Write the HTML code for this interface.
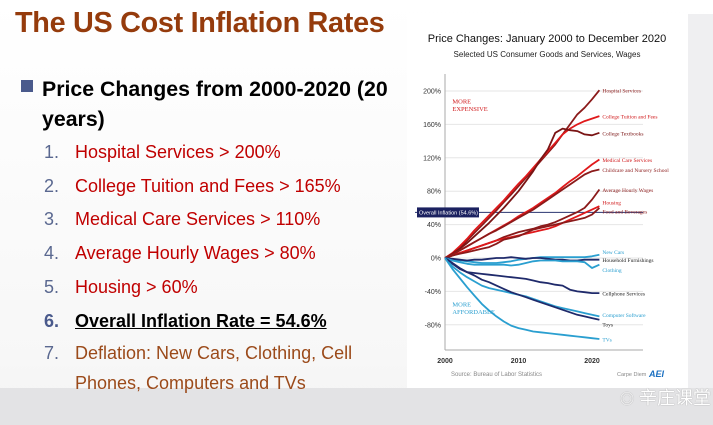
<!DOCTYPE html>
<html><head><meta charset="utf-8"><style>
body{margin:0;width:713px;height:425px;overflow:hidden;font-family:"Liberation Sans","Noto Sans CJK SC",sans-serif;}
#slide{position:absolute;left:0;top:0;width:713px;height:425px;background:linear-gradient(180deg,#ffffff 0%,#f7f7f7 85%,#f3f3f3 100%);}
#band{position:absolute;left:0;top:388px;width:713px;height:37px;background:#e3e3e5;}
#rstrip{position:absolute;left:688px;top:14px;width:25px;height:374px;background:#efeff1;}
#title{position:absolute;left:15px;top:7px;font-size:28.8px;font-weight:bold;color:#953b0c;letter-spacing:-0.3px;}
#bullet{position:absolute;left:21px;top:80px;width:12px;height:12px;background:#4a5a8c;}
#head{position:absolute;left:42px;top:74px;font-size:21.3px;font-weight:bold;color:#000;line-height:30px;width:380px;white-space:nowrap;}
.item{position:absolute;left:44px;font-size:18px;line-height:34px;color:#c00000;white-space:nowrap;}
.item .n{display:inline-block;width:31px;color:#5a6890;}
#chart{position:absolute;left:407px;top:14px;}
#wm{position:absolute;left:620px;top:384px;font-size:18px;color:#fff;text-shadow:0 0 1px #888;}
</style></head><body>
<div id="slide"></div>
<div id="band"></div>
<div id="rstrip"></div>
<div id="title">The US Cost Inflation Rates</div>
<div id="bullet"></div>
<div id="head">Price Changes from 2000-2020 (20<br>years)</div>
<div class="item" style="top:135px"><span class="n">1.</span>Hospital Services &gt; 200%</div>
<div class="item" style="top:169px"><span class="n">2.</span>College Tuition and Fees &gt; 165%</div>
<div class="item" style="top:202px"><span class="n">3.</span>Medical Care Services &gt; 110%</div>
<div class="item" style="top:236px"><span class="n">4.</span>Average Hourly Wages &gt; 80%</div>
<div class="item" style="top:270px"><span class="n">5.</span>Housing &gt; 60%</div>
<div class="item" style="top:304px;color:#000;font-weight:bold;text-decoration:underline"><span class="n" style="text-decoration:none;color:#4a5a8c">6.</span>Overall Inflation Rate = 54.6%</div>
<div class="item" style="top:338px;color:#9b4a1a;line-height:30px;white-space:normal;width:330px;padding-left:31px;text-indent:-31px"><span class="n" style="text-indent:0">7.</span>Deflation: New Cars, Clothing, Cell Phones, Computers and TVs</div>
<svg id="chart" width="281" height="374"></svg>
<div id="wm"><span style="font-size:14px;color:#fff">◎</span> 辛庄课堂</div>
<script>
const years=[2000,2001,2002,2003,2004,2005,2006,2007,2008,2009,2010,2011,2012,2013,2014,2015,2016,2017,2018,2019,2020,2021];
const seriesNames=["Hospital Services","College Tuition and Fees","College Textbooks","Medical Care Services","Childcare and Nursery School","Average Hourly Wages","Housing","Food and Beverages","New Cars","Household Furnishings","Clothing","Cellphone Services","Computer Software","Toys","TVs"];
const hospital=[0,5,12,21,30,39,48,57,67,76,86,96,106,116,126,136,148,160,172,180,190,201];
const tuition=[0,6,14,23,33,42,51,60,69,79,89,98,108,118,128,138,148,155,160,164,167,170];
const textbooks=[0,5,11,18,26,34,42,51,60,70,80,92,104,118,130,150,155,153,152,148,147,150];
const medical=[0,4,9,14,19,24,29,34,39,44,50,55,60,66,72,78,85,92,98,105,112,118];
const childcare=[0,4,9,14,19,24,29,33,38,43,48,53,58,64,70,76,82,88,94,100,104,106];
const wages=[0,3,6,9,12,15,18,21,25,28,31,33,35,38,40,43,47,51,55,60,70,82];
const housing=[0,3,6,9,12,15,18,21,23,25,27,29,31,33,35,38,42,46,50,54,58,62];
const food=[0,3,5,7,9,11,13,17,22,24,26,30,34,36,38,40,42,44,46,48,52,60];
const newCars=[0,-2,-3,-4,-5,-6,-6,-6,-5,-4,-2,-1,0,1,1,1,1,1,1,1,2,4];
const furnishings=[0,-1,-2,-3,-2,-2,-1,0,0,1,0,-1,0,0,-1,-2,-2,-3,-3,-2,-2,-2];
const clothing=[0,-3,-5,-7,-8,-8,-8,-8,-8,-9,-8,-6,-4,-3,-3,-3,-4,-4,-4,-5,-12,-8];
const cellphone=[0,-7,-13,-17,-18,-19,-20,-21,-22,-23,-24,-25,-27,-29,-30,-32,-33,-38,-40,-41,-42,-42];
const software=[0,-10,-17,-23,-28,-33,-36,-38,-40,-42,-44,-46,-49,-52,-55,-58,-60,-62,-64,-66,-68,-70];
const toys=[0,-6,-12,-17,-21,-26,-29,-33,-37,-41,-44,-47,-50,-53,-56,-59,-62,-65,-68,-70,-72,-74];
const tvs=[0,-13,-24,-35,-45,-55,-63,-70,-76,-81,-84,-86,-88,-89,-90,-91,-92,-93,-94,-95,-96,-97];
const overall=[54.6];
const yTicks=[200,160,120,80,40,0,-40,-80];
const xTicks=[2000,2010,2020];

const svg=document.getElementById('chart');
const NS='http://www.w3.org/2000/svg';
const OX=407,OY=14;
const x=v=>445+(v-2000)*7.35-OX;
const y=v=>258-v*0.835-OY;
function el(t,a,txt){const e=document.createElementNS(NS,t);for(const k in a)e.setAttribute(k,a[k]);if(txt!==undefined)e.textContent=txt;svg.appendChild(e);return e;}
let r=el('rect',{x:0,y:0,width:281,height:374,fill:'#fff'});


let t=el('text',{x:140,y:28,'text-anchor':'middle','font-size':11,fill:'#111','font-family':'Liberation Sans'},'Price Changes: January 2000 to December 2020');


t=el('text',{x:140,y:43,'text-anchor':'middle','font-size':8,fill:'#222','font-family':'Liberation Sans'},'Selected US Consumer Goods and Services, Wages');


yTicks.forEach(v=>{
 const g=el('line',{x1:x(2000),x2:643-OX,y1:y(v),y2:y(v),stroke:'#e6e6e6','stroke-width':1});
 
 
 const l=el('text',{x:x(2000)-4,y:y(v)+2.5,'text-anchor':'end','font-size':7,fill:'#333','font-family':'Liberation Sans'},v+'%');
 
 
});
let ax=el('line',{x1:x(2000),x2:x(2000),y1:60,y2:350-OY,stroke:'#aaa','stroke-width':1});


ax=el('line',{x1:x(2000),x2:643-OX,y1:350-OY,y2:350-OY,stroke:'#aaa','stroke-width':1});


xTicks.forEach(v=>{
 const l=el('text',{x:x(v),y:349,'text-anchor':'middle','font-size':7,'font-weight':'bold',fill:'#333','font-family':'Liberation Sans'},String(v));
 
 
});
let ol=el('line',{x1:x(2000)-30,x2:643-OX,y1:y(overall[0]),y2:y(overall[0]),stroke:'#2a3470','stroke-width':1});


let ob=el('rect',{x:10,y:y(overall[0])-5,width:62,height:10,fill:'#1b2160'});


t=el('text',{x:12,y:y(overall[0])+2,'font-size':5.5,fill:'#fff','font-family':'Liberation Sans'},'Overall Inflation ('+overall[0]+'%)');


const data=[hospital,tuition,textbooks,medical,childcare,wages,housing,food,newCars,furnishings,clothing,cellphone,software,toys,tvs];
const cols=['#8b1a1a','#e0191b','#7a1414','#e0191b','#8b1a1a','#8b1a1a','#e0191b','#8b1a1a','#2a9fd0','#1f2a6b','#2a9fd0','#1f2a6b','#2a9fd0','#1f2a6b','#2a9fd0'];
const labelCols=['#8b1a1a','#d0191b','#7a1414','#d0191b','#8b1a1a','#8b1a1a','#d0191b','#8b1a1a','#2a9fd0','#222','#2a9fd0','#222','#2a9fd0','#222','#2a9fd0'];
const dy=[0,0,0,0,0,0,-4,3,-3,0,5,0,-2,4,0];
data.forEach((s,i)=>{
 const d=s.map((v,j)=>(j?'L':'M')+x(years[j]).toFixed(1)+','+y(v).toFixed(1)).join('');
 const p=el('path',{d:d,fill:'none',stroke:cols[i],'stroke-width':1.8,'stroke-linejoin':'round'});
 
 
 const l=el('text',{x:x(2021)+3,y:y(s[s.length-1])+2.5+dy[i],'font-size':5.5,fill:labelCols[i],'font-family':'Liberation Serif'},seriesNames[i]);
 
 
});
[['MORE',y(185),'#d0191b'],['EXPENSIVE',y(176),'#d0191b'],['MORE',y(-58),'#2a9fd0'],['AFFORDABLE',y(-67),'#2a9fd0']].forEach(a=>{
 const l=el('text',{x:x(2001),y:a[1],'font-size':6.5,fill:a[2],'font-family':'Liberation Serif'},a[0]);
 
 
});
t=el('text',{x:44,y:362,'font-size':6,fill:'#888','font-family':'Liberation Sans'},'Source: Bureau of Labor Statistics');


t=el('text',{x:210,y:362,'font-size':5.5,fill:'#888','font-family':'Liberation Sans'},'Carpe Diem');


t=el('text',{x:242,y:363,'font-size':9,'font-weight':'bold','font-style':'italic',fill:'#1a6fc0','font-family':'Liberation Sans'},'AEI');


</script>
</body></html>
